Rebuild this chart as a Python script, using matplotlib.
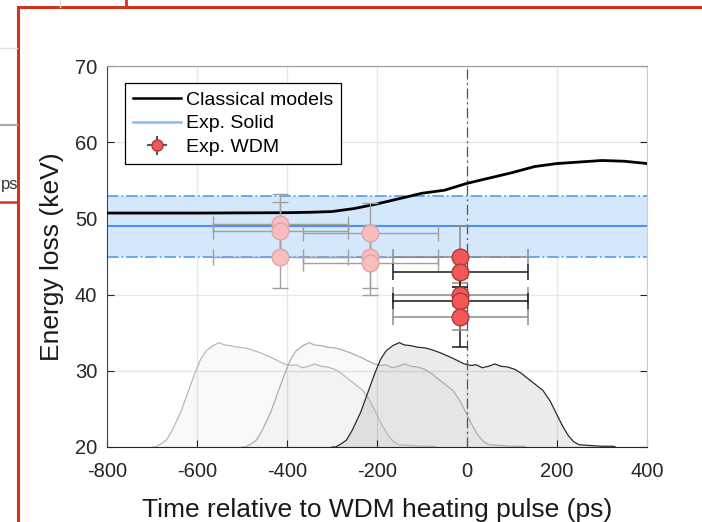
import matplotlib.pyplot as plt
from matplotlib.lines import Line2D

plt.rcParams['font.family'] = ['Liberation Sans', 'DejaVu Sans']
plt.rcParams['axes.unicode_minus'] = False

# classical model curve
model_t = [-800, -600, -400, -350, -300, -250, -200, -150, -100, -50, 0,
           50, 100, 150, 200, 250, 300, 350, 400]
model_e = [50.7, 50.7, 50.75, 50.8, 50.9, 51.3, 51.9, 52.6, 53.3, 53.7, 54.6,
           55.3, 56.0, 56.8, 57.2, 57.4, 57.6, 57.5, 57.2]

# solid-target measurement
solid_e = 49.0
solid_err = 4.0

# WDM points (full colour)
wdm_t = [-15, -15, -15, -15, -15]
wdm_e = [45.0, 43.0, 40.0, 39.1, 37.0]
wdm_terr = [150, 150, 150, 150, 150]
wdm_eerr = [4.0, 2.0, 1.5, 6.0, 1.7]
wdm_bar = ['#8c8c8c', '#1a1a1a', '#8c8c8c', '#1a1a1a', '#8c8c8c']

# earlier delays (faded)
early_t = [-415, -415, -415, -215, -215, -215]
early_e = [49.2, 48.3, 45.0, 48.1, 45.0, 44.2]
early_terr = [150, 150, 150, 150, 150, 150]
early_eerr = [4.0, 3.8, 4.1, 3.9, 4.1, 4.2]

# heating pulse profile and the three delays it is shown at
pulse_t = [-300, -292, -280, -268, -255, -236, -220, -204, -192, -180, -165,
           -150, -140, -125, -110, -93, -80, -61, -45, -30, -6, 10, 20, 34,
           48, 62, 75, 90, 106, 120, 137, 150, 169, 185, 201, 212, 225, 237,
           249, 273, 300, 324, 330]
pulse_v = [20.0, 20.0, 20.4, 20.9, 22.2, 24.6, 27.2, 29.8, 31.5, 32.6, 33.3,
           33.7, 33.4, 33.3, 33.1, 33.0, 32.8, 32.4, 32.0, 31.6, 30.9, 30.7,
           30.8, 30.4, 30.6, 30.9, 30.6, 30.5, 30.2, 29.7, 28.9, 28.3, 27.4,
           26.0, 24.1, 22.8, 21.5, 20.7, 20.3, 20.2, 20.1, 20.1, 20.0]
pulse_shift = [-400, -200, 0]
pulse_edge = ['#b8b8b8', '#adadad', '#2b2b2b']
pulse_alpha = [0.025, 0.025, 0.08]

fig = plt.figure(figsize=(7.02, 5.22), dpi=100)
ax = fig.add_axes([107 / 702, 1 - 447 / 522, 540 / 702, 381 / 522])

for s, ec, a in zip(pulse_shift, pulse_edge, pulse_alpha):
    tt = [t + s for t in pulse_t]
    ax.fill_between(tt, 20, pulse_v, color='black', alpha=a, lw=0, zorder=1)
    ax.plot(tt, pulse_v, color=ec, lw=0.9, zorder=1.2)

ax.fill_between([-800, 400], solid_e - solid_err, solid_e + solid_err,
                color='#d5e7fb', lw=0, zorder=1.5)
for lvl in (solid_e - solid_err, solid_e + solid_err):
    ax.axhline(lvl, color='#5fa3f2', lw=1.3, ls='-.', zorder=1.6)
ax.axhline(solid_e, color='#4a92ee', lw=1.5, zorder=1.7)

ax.axvline(0, color='#555555', lw=0.9, ls=(0, (8, 3, 1.5, 3)), zorder=1.8)

ax.plot(model_t, model_e, color='black', lw=2.0, zorder=3)

for t, e, te, ee in zip(early_t, early_e, early_terr, early_eerr):
    ax.errorbar(t, e, xerr=te, yerr=ee, fmt='o', ms=12, mfc='#f8bebe',
                mec='#e0a4a4', ecolor='#a0a0a0', elinewidth=1.0, capsize=6,
                capthick=1.0, zorder=4)

for t, e, te, ee, c in zip(wdm_t, wdm_e, wdm_terr, wdm_eerr, wdm_bar):
    ax.errorbar(t, e, xerr=te, yerr=ee, fmt='o', ms=12, mfc='#f25858',
                mec='#b03838', ecolor=c, elinewidth=1.1, capsize=6,
                capthick=1.1, zorder=5)

ax.set_xlim(-800, 400)
ax.set_ylim(20, 70)
ax.set_xticks(range(-800, 401, 200))
ax.set_yticks(range(20, 71, 10))
ax.grid(color='#e6e6e6', lw=0.9)
ax.set_axisbelow(True)
ax.tick_params(direction='in', length=5, labelsize=14.5, colors='#262626',
               right=True)
ax.tick_params(axis='x', pad=11)
ax.tick_params(axis='y', pad=7)
ax.spines['left'].set_color('#444444')
ax.spines['bottom'].set_color('#262626')
ax.spines['top'].set_color('#999999')
ax.spines['right'].set_color('#cccccc')

ax.set_xlabel('Time relative to WDM heating pulse (ps)', fontsize=19,
              color='#1a1a1a', labelpad=12)
ax.set_ylabel('Energy loss (keV)', fontsize=19, color='#1a1a1a',
              labelpad=8)

h_model = Line2D([], [], color='black', lw=1.8)
h_solid = Line2D([], [], color='#8ab9f2', lw=1.8)
h_wdm = ax.errorbar([], [], xerr=[], yerr=[], fmt='o', ms=8, mfc='#f25858',
                    mec='#b03838', ecolor='#555555', capsize=4)
leg = ax.legend([h_model, h_solid, h_wdm],
                ['Classical models', 'Exp. Solid', 'Exp. WDM'],
                loc='upper left', bbox_to_anchor=(0.033, 0.955),
                fontsize=14, frameon=True, fancybox=False, framealpha=1,
                edgecolor='black', handlelength=2.5, handletextpad=0.25,
                labelspacing=0.32, borderpad=0.4, borderaxespad=0)
leg.get_frame().set_linewidth(0.9)
leg.set_zorder(10)

# window frame around the figure (as in the screenshot)
red = '#d0361c'


def px_line(x0, y0, x1, y1, color, lw):
    fig.add_artist(Line2D([x0 / 702, x1 / 702], [1 - y0 / 522, 1 - y1 / 522],
                          color=color, lw=lw))


px_line(18, 7, 702, 7, red, 2.2)
px_line(18, 7, 18, 522, red, 2.2)
px_line(126, 0, 126, 7, red, 2.0)
px_line(0, 202, 18, 202, red, 1.8)
px_line(60, 0, 60, 7, '#e0e0e0', 1.0)
px_line(0, 48, 17, 48, '#e0e0e0', 1.0)
px_line(0, 125, 17, 125, '#aaaaaa', 1.6)
fig.text(1 / 702, 1 - 185 / 522, 'ps', ha='left', va='center',
         fontsize=12, color='#333333')

fig.savefig('out.png', dpi=100)
